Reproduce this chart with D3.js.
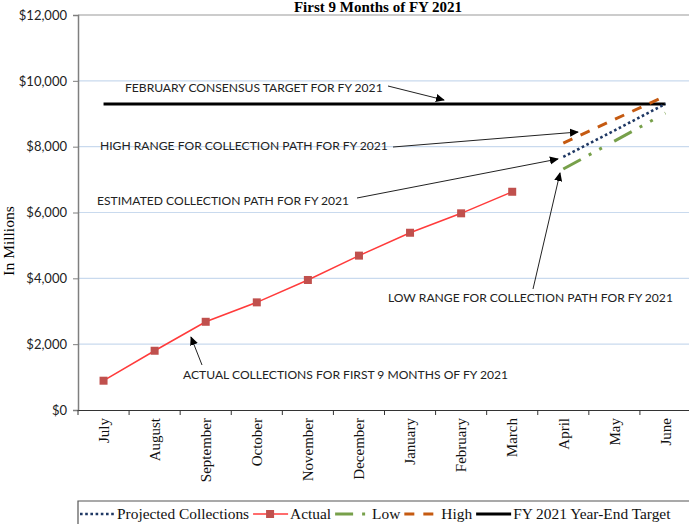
<!DOCTYPE html>
<html>
<head>
<meta charset="utf-8">
<script src="https://cdn.jsdelivr.net/npm/d3@7"></script>
<style>
  body { margin: 0; background: #fff; }
  svg { display: block; }
</style>
</head>
<body>
<div id="chart"></div>
<script>
// chart data
var months = ["July", "August", "September", "October", "November", "December",
  "January", "February", "March", "April", "May", "June"];
var actual = [890, 1800, 2680, 3270, 3950, 4690, 5385, 5975, 6630];
var projMonths = ["April", "May", "June"];
var projected = [7690, 8490, 9300];
var low = [7320, 8170, 9020];
var high = [8110, 8825, 9540];
var target = 9300;
var yTicks = [0, 2000, 4000, 6000, 8000, 10000, 12000];

var W = 689, H = 524;
var margin = { top: 15, right: -2, bottom: 114, left: 78 };

var svg = d3.select("#chart").append("svg")
  .attr("width", W)
  .attr("height", H);

var defs = svg.append("defs");
defs.append("marker")
  .attr("id", "arrow")
  .attr("viewBox", "0 0 10 10")
  .attr("refX", 9).attr("refY", 5)
  .attr("markerWidth", 9).attr("markerHeight", 9)
  .attr("markerUnits", "userSpaceOnUse")
  .attr("orient", "auto")
  .append("path")
  .attr("d", "M0,0.5 L10,5 L0,9.5 Z")
  .attr("fill", "#000");

var x = d3.scaleBand()
  .domain(months)
  .range([margin.left, W - margin.right])
  .padding(0);

var y = d3.scaleLinear()
  .domain([0, 12000])
  .range([H - margin.bottom, margin.top]);

var cx = function (m) { return x(m) + x.bandwidth() / 2; };

// gridlines
svg.append("g").selectAll("line")
  .data(yTicks.filter(function (d) { return d > 0; }))
  .enter().append("line")
  .attr("x1", margin.left).attr("x2", W)
  .attr("y1", function (d) { return y(d); })
  .attr("y2", function (d) { return y(d); })
  .attr("stroke", function (d) { return d == 12000 ? "#9a9a9a" : "#c9daee"; })
  .attr("stroke-width", 1.2);

// title, sits right at the top edge like the original
svg.append("text")
  .attr("x", 378).attr("y", 12)
  .attr("text-anchor", "middle")
  .style("font-family", "'Liberation Serif', serif")
  .style("font-weight", "bold")
  .style("font-size", "15px")
  .text("First 9 Months of FY 2021");

// y axis
var yAxis = svg.append("g")
  .attr("transform", "translate(" + margin.left + ",0)")
  .call(d3.axisLeft(y).tickValues(yTicks).tickSize(5).tickPadding(6)
    .tickFormat(function (d) { return "$" + d3.format(",")(d); }));
yAxis.select(".domain").attr("stroke", "#7f7f7f").attr("stroke-width", 1.5);
yAxis.selectAll(".tick line").attr("stroke", "#7f7f7f");
yAxis.selectAll("text")
  .style("font-family", "Lato, sans-serif")
  .style("font-size", "13px")
  .attr("fill", "#222");

svg.append("text")
  .attr("transform", "translate(14,241) rotate(-90)")
  .attr("text-anchor", "middle")
  .style("font-family", "'Liberation Serif', serif")
  .style("font-size", "15.5px")
  .text("In Millions");

// x axis
var xAxis = svg.append("g")
  .attr("transform", "translate(0," + y(0) + ")")
  .call(d3.axisBottom(x).tickSize(0).tickPadding(0));
xAxis.select(".domain").attr("stroke", "#333").attr("stroke-width", 1.2);
xAxis.selectAll(".tick text")
  .attr("transform", "rotate(-90)")
  .attr("text-anchor", "end")
  .attr("x", -8).attr("y", 0).attr("dy", "0.35em")
  .style("font-family", "'Liberation Serif', serif")
  .style("font-size", "15px")
  .attr("fill", "#111");
svg.append("g").selectAll("line")
  .data(months.concat(["end"]))
  .enter().append("line")
  .attr("x1", function (d, i) { return i < months.length ? x(d) : x.range()[1]; })
  .attr("x2", function (d, i) { return i < months.length ? x(d) : x.range()[1]; })
  .attr("y1", y(0)).attr("y2", y(0) + 5)
  .attr("stroke", "#333");

// series
var line = d3.line()
  .x(function (d) { return cx(d.m); })
  .y(function (d) { return y(d.v); });

function pair(ms, vs) {
  return vs.map(function (v, i) { return { m: ms[i], v: v }; });
}

// target
svg.append("path")
  .datum(pair([months[0], months[11]], [target, target]))
  .attr("d", line)
  .attr("fill", "none")
  .attr("stroke", "#000")
  .attr("stroke-width", 3);

svg.append("path")
  .datum(pair(projMonths, high))
  .attr("d", line)
  .attr("fill", "none")
  .attr("stroke", "#c55a11")
  .attr("stroke-width", 3)
  .attr("stroke-dasharray", "10,9");

svg.append("path")
  .datum(pair(projMonths, low))
  .attr("d", line)
  .attr("fill", "none")
  .attr("stroke", "#77a04a")
  .attr("stroke-width", 3)
  .attr("stroke-dasharray", "20,9,3,9,3,14");

svg.append("path")
  .datum(pair(projMonths, projected))
  .attr("d", line)
  .attr("fill", "none")
  .attr("stroke", "#1f3864")
  .attr("stroke-width", 2.6)
  .attr("stroke-dasharray", "2.6,2.6");

var act = pair(months, actual);
svg.append("path")
  .datum(act)
  .attr("d", line)
  .attr("fill", "none")
  .attr("stroke", "#ff3b3b")
  .attr("stroke-width", 1.5);
svg.append("g").selectAll("rect")
  .data(act)
  .enter().append("rect")
  .attr("x", function (d) { return cx(d.m) - 4; })
  .attr("y", function (d) { return y(d.v) - 4; })
  .attr("width", 8).attr("height", 8)
  .attr("fill", "#c0504d");

// annotations
var notes = [
  { t: "FEBRUARY CONSENSUS TARGET FOR FY 2021", x: 125, y: 88, from: [388, 86], to: [444, 100] },
  { t: "HIGH RANGE FOR COLLECTION PATH FOR FY 2021", x: 100, y: 146, from: [393, 147], to: [578, 132] },
  { t: "ESTIMATED COLLECTION PATH FOR FY 2021", x: 97, y: 201, from: [357, 198], to: [558, 159] },
  { t: "LOW RANGE FOR COLLECTION PATH FOR FY 2021", x: 388, y: 298, from: [533, 289], to: [560, 173] },
  { t: "ACTUAL COLLECTIONS FOR FIRST 9 MONTHS OF FY 2021", x: 183, y: 375, from: [202, 365], to: [191, 337] }
];
var ann = svg.append("g");
ann.selectAll("text")
  .data(notes)
  .enter().append("text")
  .attr("x", function (d) { return d.x; })
  .attr("y", function (d) { return d.y; })
  .attr("dy", "0.35em")
  .style("font-family", "Lato, sans-serif")
  .style("font-size", "12.1px")
  .attr("fill", "#222")
  .text(function (d) { return d.t; });
ann.selectAll("line")
  .data(notes)
  .enter().append("line")
  .attr("x1", function (d) { return d.from[0]; })
  .attr("y1", function (d) { return d.from[1]; })
  .attr("x2", function (d) { return d.to[0]; })
  .attr("y2", function (d) { return d.to[1]; })
  .attr("stroke", "#222")
  .attr("stroke-width", 1)
  .attr("marker-end", "url(#arrow)");

// legend
var leg = svg.append("g");
leg.append("path")
  .attr("d", "M" + margin.left + "," + (H + 2) + "V501H" + (W + 2))
  .attr("fill", "none")
  .attr("stroke", "#555")
  .attr("stroke-width", 1.2);

var legItems = [
  { t: "Projected Collections", stroke: "#1f3864", dash: "2.6,2.6", w: 2.6 },
  { t: "Actual", stroke: "#ff3b3b", dash: null, w: 1.5, marker: true },
  { t: "Low", stroke: "#77a04a", dash: "18,9,3,9", w: 3 },
  { t: "High", stroke: "#c55a11", dash: "10,9", w: 3 },
  { t: "FY 2021 Year-End Target", stroke: "#000", dash: null, w: 3 }
];
var lx = 80, ly = 514;
legItems.forEach(function (d) {
  var g = leg.append("g");
  g.append("line")
    .attr("x1", lx).attr("x2", lx + 35)
    .attr("y1", ly).attr("y2", ly)
    .attr("stroke", d.stroke)
    .attr("stroke-width", d.w)
    .attr("stroke-dasharray", d.dash);
  if (d.marker) {
    g.append("rect")
      .attr("x", lx + 13).attr("y", ly - 4)
      .attr("width", 8).attr("height", 8)
      .attr("fill", "#c0504d");
  }
  var t = g.append("text")
    .attr("x", lx + 37).attr("y", ly)
    .attr("dy", "0.35em")
    .style("font-family", "'Liberation Serif', serif")
    .style("font-size", "15.4px")
    .attr("fill", "#111")
    .text(d.t);
  lx += 37 + t.node().getComputedTextLength() + 4;
});
</script>
</body>
</html>
